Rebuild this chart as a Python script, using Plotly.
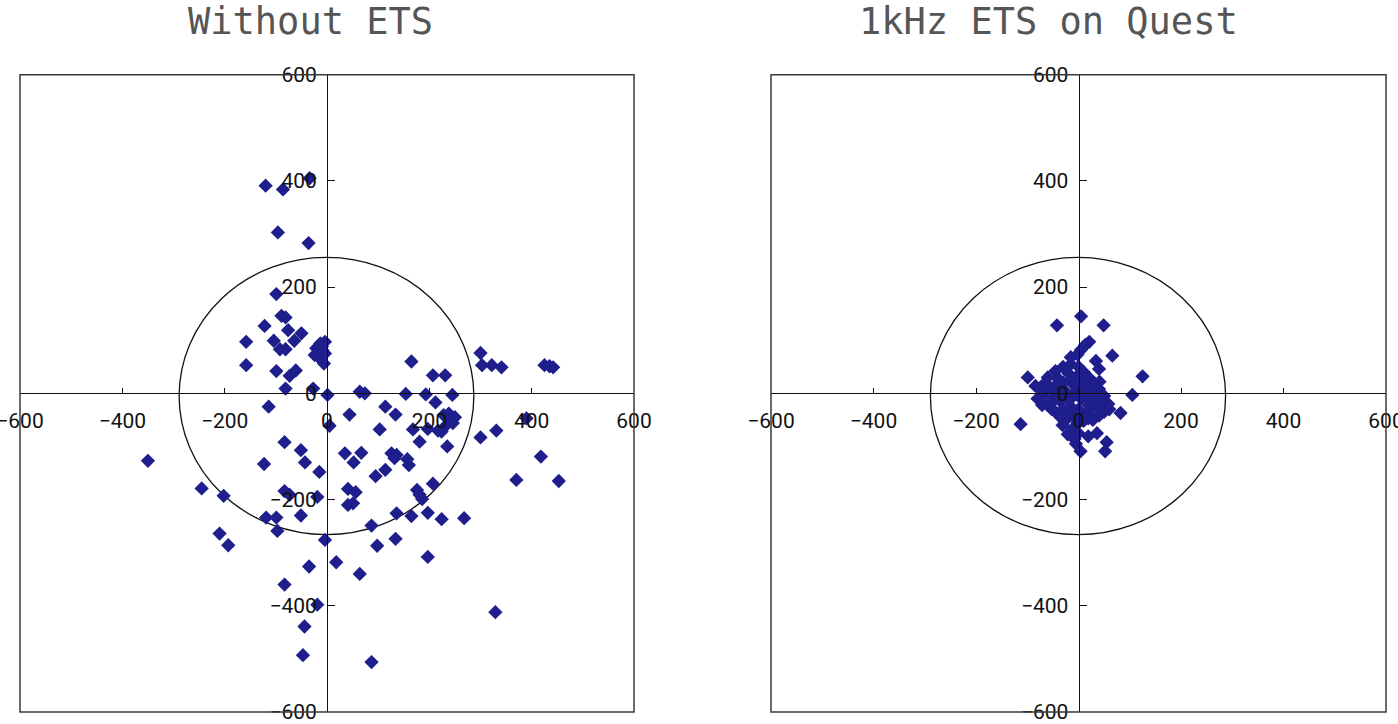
import plotly.graph_objects as go

# ---------------- data ----------------
LEFT_X = [-120, -86, -34, -96, -36, -99,
          -89, -81, -122, -76, -50, -64, -104, -158, -92, -81,
          -13, -4, -21, -9, -4, -24, -14, -6, -10,
          -158, -99, -73, -61, -81, -27, 1, -114,
          165, 207, 231, 300, 303, 322, 341, 425, 435, 442,
          64, 74, 154, 193, 245, 212,
          44, 114, 134, 5, 103, 168, 197, 217, 181,
          228, 243, 233, 246, 224, 238, 250,
          300, 331, 390,
          235, 35, 67, 52, 126, 136, 132, 95, 114, 157, 160,
          207, 370, 418, 453,
          41, 56, 41, 51, 176, 181, 186,
          136, 165, 197, 224, 268, 87,
          -4, 98, 134, 197, 18, 64, 329, 87,
          -350, -83, -51, -43, -123, -15, -245, -202, -83, -73, -19,
          -51, -119, -99, -97, -210, -193, -35, -83, -19, -44, -47]
LEFT_Y = [391, 384, 405, 303, 283, 187,
          146, 143, 127, 119, 113, 99, 99, 97, 83, 83,
          94, 97, 85, 81, 75, 72, 66, 56, 88,
          53, 42, 33, 43, 9, 9, -3, -25,
          60, 34, 34, 76, 53, 53, 49, 53, 51, 49,
          3, 0, -1, -2, -3, -17,
          -40, -25, -40, -61, -68, -68, -67, -70, -91,
          -41, -49, -60, -56, -72, -38, -45,
          -83, -70, -47,
          -100, -113, -112, -130, -113, -116, -122, -156, -144, -124, -135,
          -170, -163, -119, -165,
          -180, -186, -210, -207, -182, -191, -199,
          -226, -231, -225, -237, -235, -249,
          -276, -287, -274, -308, -318, -340, -412, -506,
          -127, -92, -107, -130, -133, -148, -179, -193, -184, -191, -195,
          -230, -234, -234, -259, -264, -286, -326, -360, -398, -439, -493]

RIGHT_X = [-42, 5, 49, 66, 125, -99, -84, 105, 82, -113, -71, -31, 19, 19, 36, 55, 52, 4, -21, -8,
           21, 13, 5, -2, -15, 34, 40, 41,
           -60, -45, -30, -15, 0, 10, 20, 30, 40, 50, 58, 50, 40, 28, 15, 0, -15, -30, -45, -55,
           -70, -75, -60, -45, -30, -15, 0, 15, 25, 35, 20, 5, -10, -25, -40, -50, -35, -20, -5, 10,
           0, -20, -40, 25, 42, -5, -20, 10, -2, -35, -80, -65, -52, 30, 12, -8, -10, 0, -5,
           -60, -30, 48, 60, 8, -12, 22, -48]
RIGHT_Y = [128, 145, 128, 71, 32, 30, 14, -3, -37, -58, -22, -60, -47, -81, -75, -92, -109, -109, -77, -86,
           97, 91, 82, 73, 68, 61, 46, 22,
           30, 42, 50, 55, 50, 40, 30, 20, 8, -5, -20, -35, -42, -50, -40, -30, -25, -30, -35, -20,
           -5, 8, 10, 15, 20, 25, 20, 12, 3, -10, -22, -10, -5, 0, 0, -8, -15, -12, 5, 0,
           35, 38, 28, -30, -25, -45, -45, -52, -55, -45, -10, 20, -30, -5, 25, 15, -65, -75, -95,
           -22, 8, -12, -30, -40, -35, -12, 2]

TICK_VALS = [-600, -400, -200, 0, 200, 400, 600]
TICK_TEXT = ["\u2212600", "\u2212400", "\u2212200", "0", "200", "400", "600"]
AXIS_RANGE = [-600, 600]

# reference ellipse (data units)
ELL_CX, ELL_CY, ELL_RX, ELL_RY = -1, -5, 288, 261

TITLES = ["Without ETS", "1kHz ETS on Quest"]

# ---------------- figure ----------------
W, H = 1398, 724
MARK = "#1e1e8c"

fig = go.Figure()
fig.add_trace(go.Scatter(x=LEFT_X, y=LEFT_Y, mode="markers", xaxis="x", yaxis="y",
                         marker=dict(symbol="diamond", size=11, color=MARK, line=dict(width=0)),
                         showlegend=False))
fig.add_trace(go.Scatter(x=RIGHT_X, y=RIGHT_Y, mode="markers", xaxis="x2", yaxis="y2",
                         marker=dict(symbol="diamond", size=11, color=MARK, line=dict(width=0)),
                         showlegend=False))

xdom1 = [20 / W, 634 / W]
xdom2 = [771 / W, 1386 / W]
ydom = [1 - 712 / H, 1 - 74.7 / H]
ymid = (ydom[0] + ydom[1]) / 2

tickfont = dict(family="Liberation Sans Narrow, Roboto, sans-serif", size=21, color="#111111")

def xax(dom, ypos):
    return dict(domain=dom, range=AXIS_RANGE, anchor="free", position=ypos, automargin=False,
                showgrid=False, zeroline=False, showline=True, linecolor="#111111", linewidth=1,
                ticks="inside", ticklen=5, tickcolor="#111111", tickvals=TICK_VALS, ticktext=TICK_TEXT,
                tickfont=tickfont, ticklabelstandoff=8, ticklabeloverflow="allow", fixedrange=True)

def yax(xpos):
    return dict(domain=ydom, range=AXIS_RANGE, anchor="free", position=xpos, automargin=False,
                showgrid=False, zeroline=False, showline=True, linecolor="#111111", linewidth=1,
                ticks="inside", ticklen=7, tickcolor="#111111", tickvals=TICK_VALS, ticktext=TICK_TEXT,
                tickfont=tickfont, ticklabelstandoff=6, ticklabeloverflow="allow", fixedrange=True)

fig.update_layout(
    width=W, height=H, margin=dict(l=0, r=0, t=0, b=0, autoexpand=False),
    paper_bgcolor="white", plot_bgcolor="white",
    xaxis=xax(xdom1, ymid),
    yaxis=yax((xdom1[0] + xdom1[1]) / 2),
    xaxis2=xax(xdom2, ymid),
    yaxis2=yax((xdom2[0] + xdom2[1]) / 2),
)

shapes = []
for xr, yr in (("x", "y"), ("x2", "y2")):
    shapes.append(dict(type="rect", xref=xr + " domain", yref=yr + " domain", x0=0, x1=1, y0=0, y1=1,
                       line=dict(color="#3a3a3a", width=1.5), layer="above"))
    shapes.append(dict(type="circle", xref=xr, yref=yr,
                       x0=ELL_CX - ELL_RX, x1=ELL_CX + ELL_RX, y0=ELL_CY - ELL_RY, y1=ELL_CY + ELL_RY,
                       line=dict(color="#111111", width=1.3), layer="below"))
fig.update_layout(shapes=shapes)

title_font = dict(family="DejaVu Sans Mono, Liberation Mono, monospace", size=37, color="#555555")
fig.add_annotation(text=TITLES[0], x=310 / W, y=1 - 22 / H, xref="paper", yref="paper",
                   showarrow=False, font=title_font, xanchor="center", yanchor="middle")
fig.add_annotation(text=TITLES[1], x=1048 / W, y=1 - 22 / H, xref="paper", yref="paper",
                   showarrow=False, font=title_font, xanchor="center", yanchor="middle")

fig.write_html("out.html")
